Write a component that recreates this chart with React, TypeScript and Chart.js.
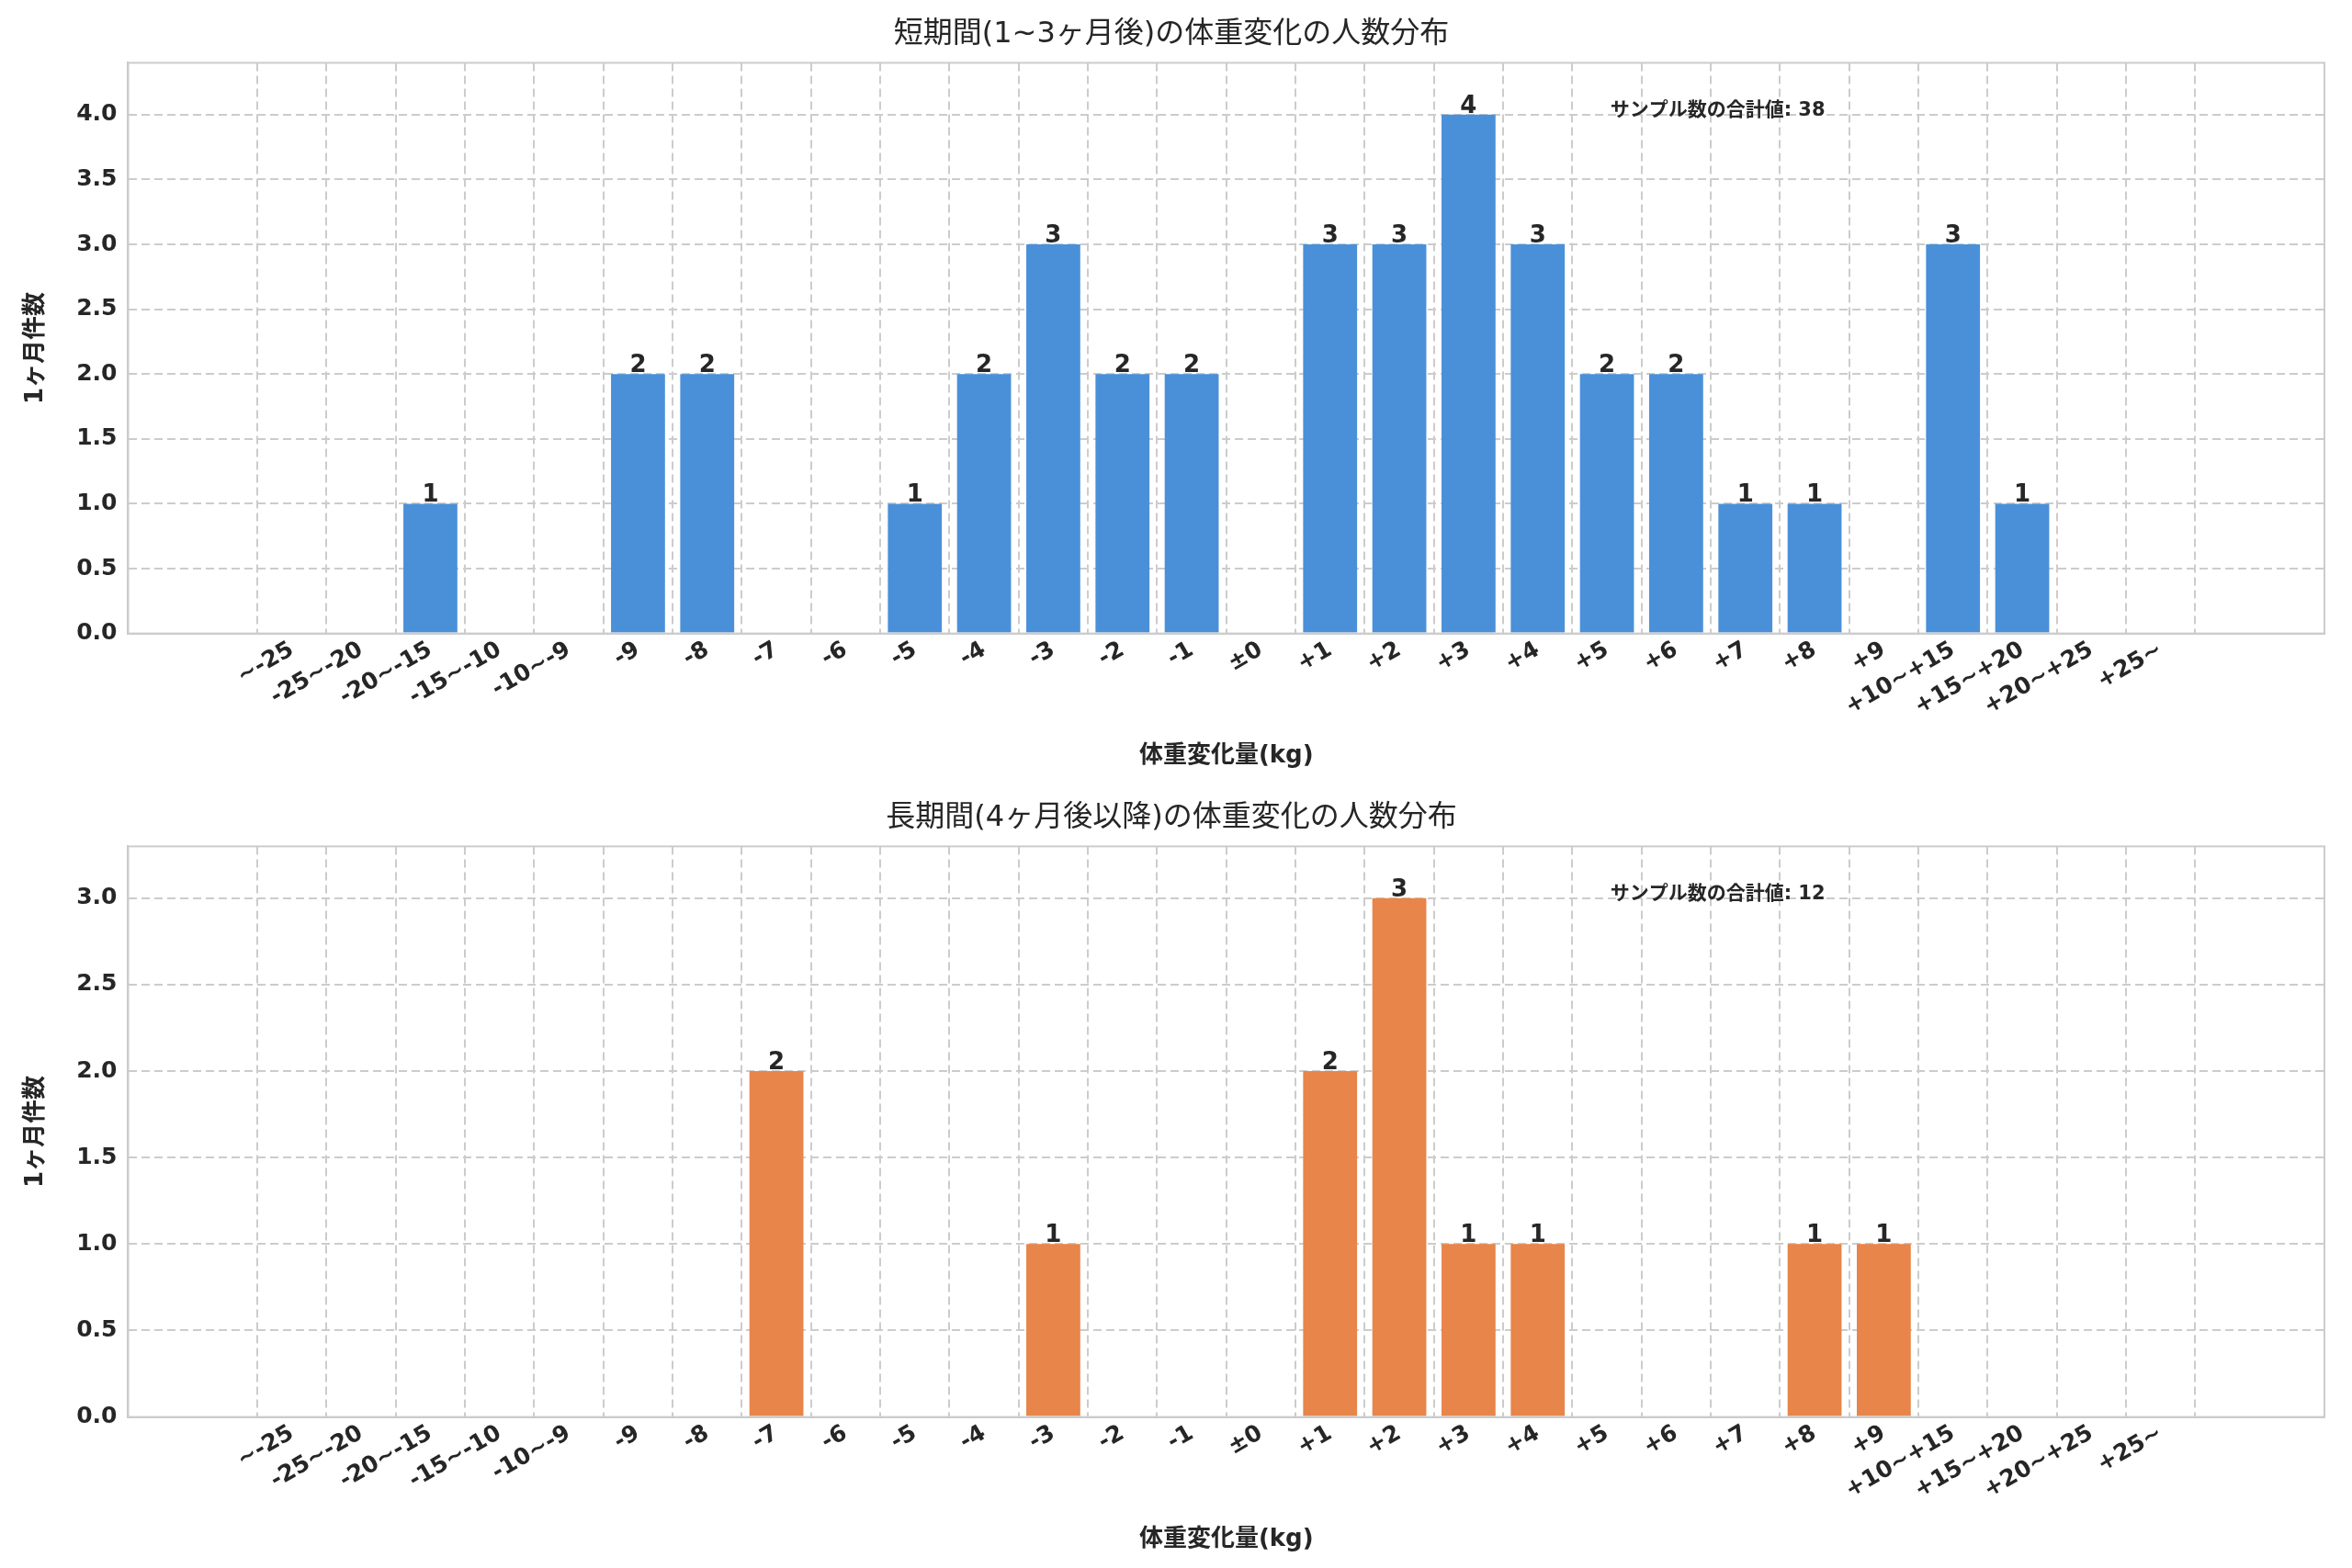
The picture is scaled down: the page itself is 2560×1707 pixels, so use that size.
import React, { useEffect, useRef } from "react";
import { Chart, registerables } from "chart.js";
Chart.register(...registerables);

const categories = ["~-25","-25~-20","-20~-15","-15~-10","-10~-9","-9","-8","-7","-6","-5","-4","-3","-2","-1","±0","+1","+2","+3","+4","+5","+6","+7","+8","+9","+10~+15","+15~+20","+20~+25","+25~"];
const shortValues = [0,0,1,0,0,2,2,0,0,1,2,3,2,2,0,3,3,4,3,2,2,1,1,0,3,1,0,0];
const longValues = [0,0,0,0,0,0,0,2,0,0,0,1,0,0,0,2,3,1,1,0,0,0,1,1,0,0,0,0];
const shortTitle = "短期間(1~3ヶ月後)の体重変化の人数分布";
const longTitle = "長期間(4ヶ月後以降)の体重変化の人数分布";
const yLabel = "1ヶ月件数";
const xLabel = "体重変化量(kg)";
const totalLabel = "サンプル数の合計値";

const FONT = "'DejaVu Sans', 'Noto Sans CJK JP', sans-serif";

function Panel({ values, color, title, yMax, total }: { values: number[]; color: string; title: string; yMax: number; total: number }) {
  const ref = useRef<HTMLCanvasElement>(null);
  useEffect(() => {
    const labelPlugin = {
      id: "labels",
      afterDatasetsDraw(chart: any) {
        const ctx = chart.ctx;
        const meta = chart.getDatasetMeta(0);
        ctx.save();
        ctx.font = `bold 26px ${FONT}`;
        ctx.fillStyle = "#262626";
        ctx.textAlign = "center";
        ctx.textBaseline = "bottom";
        meta.data.forEach((el: any, i: number) => {
          if (values[i] > 0) ctx.fillText(String(values[i]), el.x, el.y + 4);
        });
        const xs = chart.scales.x, ys = chart.scales.y;
        const yTop = ys.getPixelForValue(ys.max) + 52;
        ctx.font = `bold 21px ${FONT}`;
        ctx.textBaseline = "middle";
        ctx.fillText(`${totalLabel}: ${total}`, xs.getPixelForValue(20.6), yTop);
        const a = chart.chartArea;
        ctx.strokeStyle = "#cccccc";
        ctx.lineWidth = 2;
        ctx.setLineDash([]);
        ctx.strokeRect(a.left, a.top, a.right - a.left, a.bottom - a.top);
        ctx.restore();
      },
    };
    const grid = { color: "#cccccc", lineWidth: 2, drawTicks: false };
    const chart = new Chart(ref.current!, {
      type: "bar",
      data: {
        datasets: [{
          data: values.map((v, i) => ({ x: i, y: v })),
          backgroundColor: color,
          barPercentage: 0.78,
          categoryPercentage: 1,
        }],
      },
      options: {
        animation: false,
        responsive: false,
        layout: { padding: { left: 20, right: 30, top: 10, bottom: 10 } },
        plugins: {
          legend: { display: false },
          tooltip: { enabled: false },
          title: { display: true, text: title, font: { family: FONT, size: 32, weight: "normal" }, color: "#262626", padding: { top: 8, bottom: 12 } },
        },
        scales: {
          x: {
            type: "linear",
            min: -1.8,
            max: 28.8,
            afterBuildTicks: (s: any) => { s.ticks = categories.map((_, i) => ({ value: i })); },
            ticks: {
              autoSkip: false,
              maxRotation: 30,
              minRotation: 30,
              callback: (v: any) => categories[v as number] ?? "",
              font: { family: FONT, size: 25, weight: "bold" },
              color: "#262626",
            },
            grid,
            border: { color: "#cccccc", width: 2, dash: [9, 5] },
            title: { display: true, text: xLabel, font: { family: FONT, size: 26, weight: "bold" }, color: "#262626", padding: { top: 20 } },
          },
          y: {
            min: 0,
            max: yMax,
            afterBuildTicks: (s: any) => { const t = []; for (let v = 0; v <= yMax + 1e-9; v += 0.5) t.push({ value: Math.round(v * 10) / 10 }); s.ticks = t; },
            ticks: {
              callback: (v: any) => Number(v).toFixed(1),
              font: { family: FONT, size: 25, weight: "bold" },
              color: "#262626",
              padding: 12,
            },
            grid,
            border: { color: "#cccccc", width: 2, dash: [9, 5] },
            title: { display: true, text: yLabel, font: { family: FONT, size: 26, weight: "bold" }, color: "#262626", padding: { bottom: 16 } },
          },
        },
      },
      plugins: [labelPlugin],
    } as any);
    return () => chart.destroy();
  }, []);
  return <canvas ref={ref} width={2560} height={853} style={{ display: "block" }} />;
}

export default function App() {
  useEffect(() => { document.body.style.margin = "0"; document.body.style.background = "#fff"; }, []);
  return (
    <div style={{ width: 2560, height: 1707, background: "#fff" }}>
      <Panel values={shortValues} color="#4a90d9" title={shortTitle} yMax={4.4} total={38} />
      <Panel values={longValues} color="#e8854a" title={longTitle} yMax={3.3} total={12} />
    </div>
  );
}
